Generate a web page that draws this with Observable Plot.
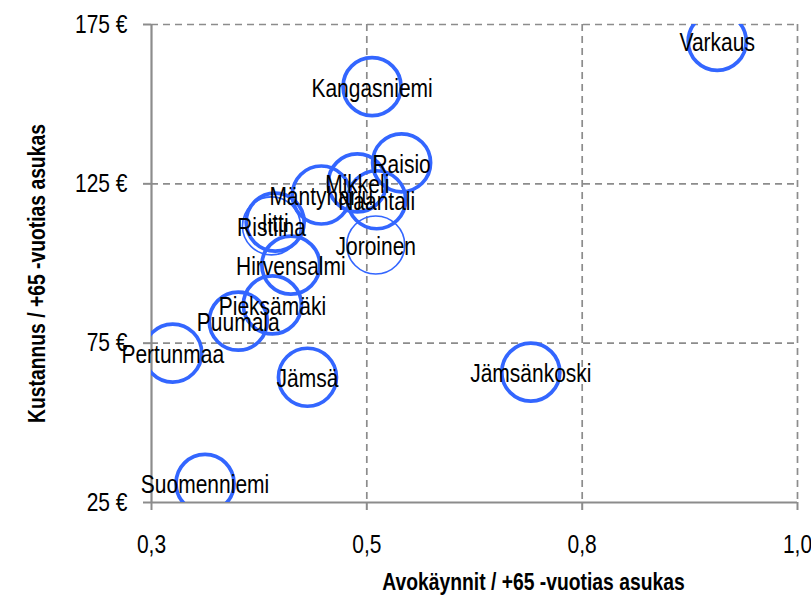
<!DOCTYPE html>
<html>
<head>
<meta charset="utf-8">
<script src="https://cdn.jsdelivr.net/npm/d3@7"></script>
<script src="https://cdn.jsdelivr.net/npm/@observablehq/plot@0.6"></script>
<style>
  html, body { margin: 0; padding: 0; background: #fff; }
</style>
</head>
<body>
<div id="chart"></div>
<script>
// ---- data ----
const municipalities = ["Varkaus","Kangasniemi","Raisio","Mikkeli","Naantali","Mäntyharju","Ristiina","Iitti","Joroinen","Hirvensalmi","Pieksämäki","Puumala","Pertunmaa","Jämsä","Jämsänkoski","Suomenniemi"];
const visitsPerResident = [0.913,0.539,0.571,0.523,0.544,0.484,0.430,0.434,0.543,0.451,0.431,0.394,0.323,0.469,0.711,0.358];
const costPerResident   = [169.7,155.5,131.6,125.3,120.0,121.5,111.8,113.0,105.8,99.5,87.0,81.9,71.9,64.3,65.9,31.0];

const xTicks = [0.3, 0.5333, 0.7667, 1.0];
const xTickLabels = ["0,3","0,5","0,8","1,0"];
const yTicks = [25, 75, 125, 175];
const yTickLabels = ["25 €","75 €","125 €","175 €"];

const xTitle = "Avokäynnit / +65 -vuotias asukas";
const yTitle = "Kustannus / +65 -vuotias asukas";

// ---- style ----
const thinOutline = ["Joroinen","Ristiina"];
const FONT = "'Liberation Sans',Arial,sans-serif";
const NARROW = 0.84; // horizontal squeeze to mimic a narrow face
const BLUE = "#3366ff";
const GRAY = "#8c8c8c";

const rows = municipalities.map((name, i) => ({name, x: visitsPerResident[i], y: costPerResident[i]}));
const thickRows = rows.filter(d => !thinOutline.includes(d.name));
const thinRows = rows.filter(d => thinOutline.includes(d.name));

const chart = Plot.plot({
  width: 811,
  height: 595,
  marginLeft: 151,
  marginRight: 14,
  marginTop: 24,
  marginBottom: 93,
  style: {fontFamily: FONT, fontSize: "25px", color: "#000", background: "#fff", overflow: "visible"},
  x: {domain: [0.3, 1.0]},
  y: {domain: [25, 175]},
  marks: [
    Plot.ruleY(yTicks.slice(1), {stroke: GRAY, strokeWidth: 1.7, strokeDasharray: "7,5"}),
    Plot.ruleX(xTicks.slice(1), {stroke: GRAY, strokeWidth: 1.7, strokeDasharray: "7,5"}),
    Plot.ruleX([xTicks[0]], {stroke: GRAY, strokeWidth: 2.2}),
    Plot.ruleY([yTicks[0]], {stroke: GRAY, strokeWidth: 2.2}),
    Plot.axisX({ticks: xTicks, tickFormat: (d, i) => xTickLabels[i], tickSize: 8, tickPadding: 25, stroke: GRAY, strokeWidth: 2, label: null, fontSize: 25}),
    Plot.axisY({ticks: yTicks, tickFormat: (d, i) => yTickLabels[i], tickSize: 8, tickPadding: 16, stroke: GRAY, strokeWidth: 2, label: null, fontSize: 25}),
    Plot.dot(thickRows, {x: "x", y: "y", r: 29, stroke: BLUE, strokeWidth: 3.7, fill: "none", clip: true}),
    Plot.dot(thinRows, {x: "x", y: "y", r: 29, stroke: BLUE, strokeWidth: 1.6, fill: "none", clip: true}),
    Plot.text(rows, {x: "x", y: "y", text: "name", fontSize: 25, fill: "#000", dy: 2}),
    Plot.text([xTitle], {frameAnchor: "bottom", dx: 59, dy: 87, fontWeight: "bold", fontSize: 23, fill: "#000"}),
    Plot.text([yTitle], {frameAnchor: "left", dx: -114, dy: 10, rotate: -90, textAnchor: "middle", fontWeight: "bold", fontSize: 23, fill: "#000"})
  ]
});

// squeeze every text horizontally around its anchor point
chart.querySelectorAll("text").forEach(t => {
  const tr = t.getAttribute("transform") || "";
  const xa = t.getAttribute("x");
  let shift = "";
  if (xa != null && /^-?[\d.]+$/.test(xa.trim())) {
    shift = ` translate(${+xa},0)`;
    t.removeAttribute("x");
  }
  t.setAttribute("transform", `${tr}${shift} scale(${NARROW},1)`);
});

document.getElementById("chart").appendChild(chart);
</script>
</body>
</html>
